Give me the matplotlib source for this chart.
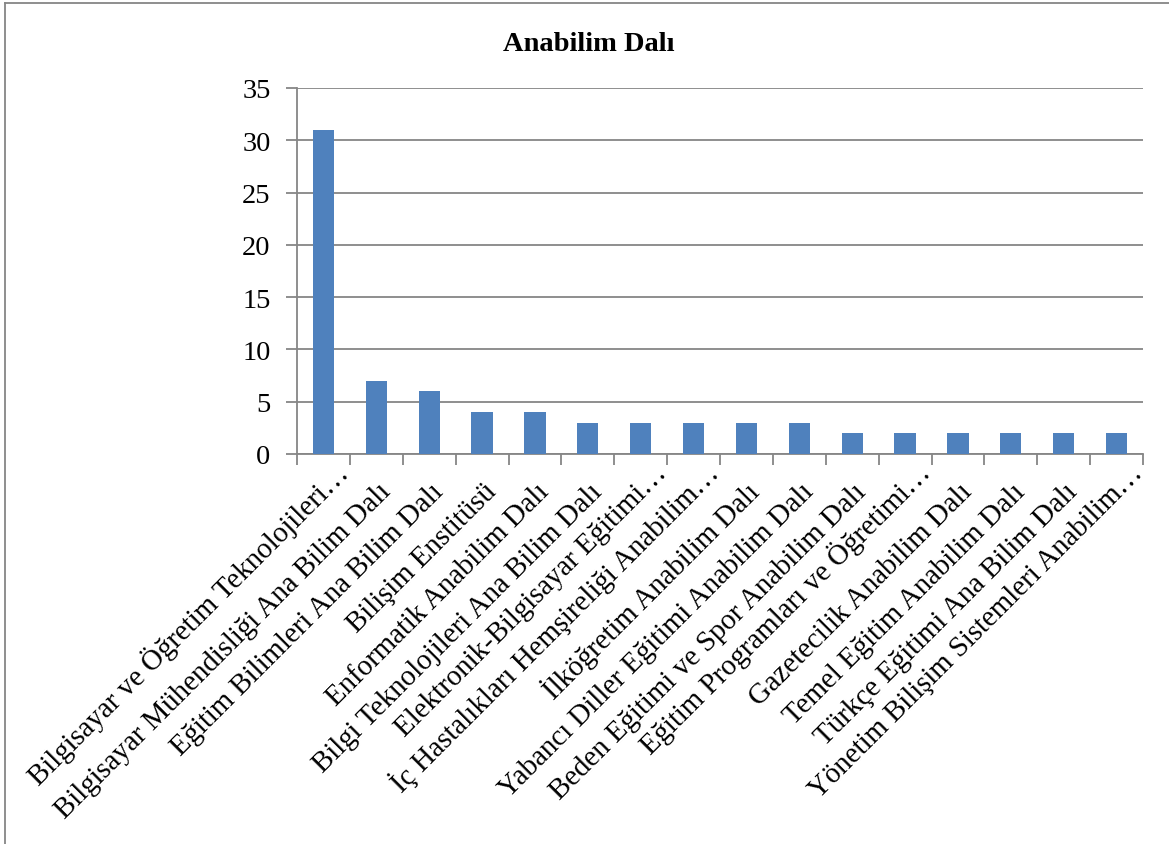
import numpy as np
import matplotlib.pyplot as plt
import matplotlib.transforms as mtransforms
from matplotlib.lines import Line2D

# Data
categories = [
    'Bilgisayar ve Öğretim Teknolojileri…',
    'Bilgisayar Mühendisliği Ana Bilim Dalı',
    'Eğitim Bilimleri Ana Bilim Dalı',
    'Bilişim Enstitüsü',
    'Enformatik Anabilim Dalı',
    'Bilgi Teknolojileri Ana Bilim Dalı',
    'Elektronik-Bilgisayar Eğitimi…',
    'İç Hastalıkları Hemşireliği Anabilim…',
    'İlköğretim Anabilim Dalı',
    'Yabancı Diller Eğitimi Anabilim Dalı',
    'Beden Eğitimi ve Spor Anabilim Dalı',
    'Eğitim Programları ve Öğretimi…',
    'Gazetecilik Anabilim Dalı',
    'Temel Eğitim Anabilim Dalı',
    'Türkçe Eğitimi Ana Bilim Dalı',
    'Yönetim Bilişim Sistemleri Anabilim…',
]
counts = [31, 7, 6, 4, 4, 3, 3, 3, 3, 3, 2, 2, 2, 2, 2, 2]
yticks = [0, 5, 10, 15, 20, 25, 30, 35]

plt.rcParams['font.family'] = ['Liberation Serif', 'DejaVu Serif']

fig = plt.figure(figsize=(11.69, 8.45), dpi=100)
ax = fig.add_axes([297 / 1169, 1 - 455 / 845, (1143 - 297) / 1169, (455 - 89) / 845])

x = np.arange(len(categories))
ax.bar(x, counts, width=0.4, color='#4F81BD', zorder=3)

ax.set_xlim(-0.5, len(categories) - 0.5)
ax.set_ylim(0, 35)
ax.set_yticks(yticks)
ax.yaxis.grid(True, color='#868686', linewidth=1.3, zorder=0)
ax.tick_params(axis='y', length=8, width=1.3, color='#868686', labelsize=20.5, pad=11)

# category labels, rotated, end of baseline just below the category centre
ax.set_xticks(x)
ax.set_xticklabels(categories, rotation=45, rotation_mode='anchor',
                   ha='right', va='baseline', fontsize=20.8)
ax.tick_params(axis='x', length=0, pad=0)
for lab in ax.get_xticklabels():
    # truncated labels sit a bit further up/right in the original
    if lab.get_text().endswith('…'):
        dx, dy = 27, -20
    else:
        dx, dy = 15, -38
    shift = mtransforms.ScaledTranslation(dx / 100, dy / 100, fig.dpi_scale_trans)
    lab.set_transform(lab.get_transform() + shift)
# boundary ticks
ax.set_xticks(np.arange(len(categories) + 1) - 0.5, minor=True)
ax.tick_params(axis='x', which='minor', length=8, width=1.3, color='#868686')

for s in ['top', 'right']:
    ax.spines[s].set_visible(False)
for s in ['left', 'bottom']:
    ax.spines[s].set_color('#868686')
    ax.spines[s].set_linewidth(1.3)

fig.text(589 / 1169, 1 - 51 / 845, 'Anabilim Dalı', ha='center', va='baseline',
         fontsize=20.5, fontweight='bold')

# chart border
fig.add_artist(Line2D([5 / 1169, 5 / 1169], [0, 1 - 4 / 845], color='#868686', lw=1.3))
fig.add_artist(Line2D([5 / 1169, 1], [1 - 4 / 845, 1 - 4 / 845], color='#868686', lw=1.3))

fig.savefig('out.png', dpi=100)
